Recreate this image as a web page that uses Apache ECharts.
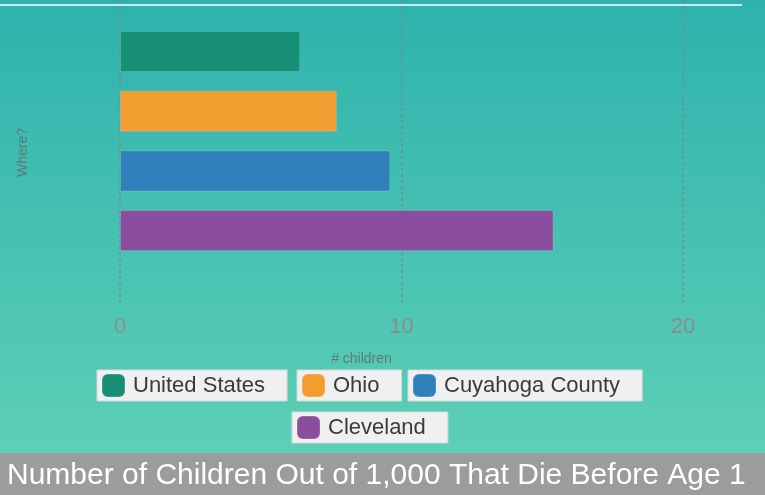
<!DOCTYPE html>
<html>
<head>
<meta charset="utf-8">
<script src="https://cdn.jsdelivr.net/npm/echarts@6/dist/echarts.min.js"></script>
<style>
html,body{margin:0;padding:0;background:#3fbfb2;}
#chart{width:765px;height:495px;}
</style>
</head>
<body>
<div id="chart"></div>
<script>
var categories = ['United States', 'Ohio', 'Cuyahoga County', 'Cleveland'];
var values = [6.4, 7.7, 9.6, 15.4];
var colors = ['#168f74', '#f19d30', '#2f80bb', '#8b4e9e'];
var xTicks = [0, 10, 20];
var titleText = 'Number of Children Out of 1,000 That Die Before Age 1';
var xName = '# children';
var yName = 'Where?';

var chart = echarts.init(document.getElementById('chart'), null, {renderer: 'canvas'});

var series = categories.map(function (c, i) {
  return {
    name: c,
    type: 'bar',
    xAxisIndex: 0,
    yAxisIndex: 0,
    barWidth: 41,
    barGap: '-100%',
    itemStyle: {color: colors[i], borderColor: 'rgba(255,255,255,0.15)', borderWidth: 1},
    data: categories.map(function (cc, j) { return j === i ? values[i] : '-'; })
  };
});

// legends: one box per item
var legendPos = [
  {left: 97, top: 370},
  {left: 297, top: 370},
  {left: 408, top: 370},
  {left: 292, top: 412}
];
var legends = categories.map(function (c, i) {
  return {
    data: [c],
    left: legendPos[i].left,
    top: legendPos[i].top,
    orient: 'horizontal',
    icon: 'roundRect',
    itemWidth: 23,
    itemHeight: 23,
    padding: [3, 22, 3, 4],
    backgroundColor: '#f0f0f0',
    borderColor: '#d8d8d8',
    borderWidth: 1,
    selectedMode: false,
    textStyle: {fontSize: 22, color: '#3a3a3a', fontFamily: 'Liberation Sans, Arial, sans-serif', padding: [0, 0, 0, 3]}
  };
});

var option = {
  backgroundColor: new echarts.graphic.LinearGradient(0, 0, 0, 1, [
    {offset: 0, color: '#2eb2ad'},
    {offset: 1, color: '#61d2b7'}
  ]),
  animation: false,
  color: colors,
  title: {
    text: titleText,
    left: 7,
    top: 461,
    padding: 0,
    textStyle: {color: '#ffffff', fontSize: 30, fontWeight: 'normal', fontFamily: 'Liberation Sans, Arial, sans-serif'}
  },
  legend: legends,
  grid: [
    {left: 120, right: 25.7, top: 21.65, height: 238.8, containLabel: false},
    {left: 120, width: 563, top: 0, height: 305, containLabel: false}
  ],
  xAxis: [
    {
      type: 'value', gridIndex: 0, min: 0, max: 22,
      axisLine: {show: false}, axisTick: {show: false}, axisLabel: {show: false}, splitLine: {show: false}
    },
    {
      type: 'value', gridIndex: 1, min: 0, max: 20, interval: 10,
      axisLine: {show: false}, axisTick: {show: false},
      axisLabel: {
        fontSize: 22, color: '#8c8c8c', margin: 11,
        fontFamily: 'Liberation Sans, Arial, sans-serif',
        formatter: function (v) { return xTicks.indexOf(v) >= 0 ? String(v) : ''; }
      },
      splitLine: {show: true, lineStyle: {color: 'rgba(130,130,130,0.8)', type: [3, 3], width: 1.5}},
      name: xName,
      nameLocation: 'middle',
      nameGap: 47,
      nameTextStyle: {fontSize: 14, color: '#607a74', padding: [0, 80, 0, 0], fontFamily: 'Liberation Sans, Arial, sans-serif'}
    }
  ],
  yAxis: [
    {
      type: 'category', gridIndex: 0, data: categories, inverse: true,
      axisLine: {show: false}, axisTick: {show: false}, axisLabel: {show: false}, splitLine: {show: false}
    },
    {
      type: 'value', gridIndex: 1, min: 0, max: 1,
      axisLine: {show: false}, axisTick: {show: false}, axisLabel: {show: false}, splitLine: {show: false},
      name: yName,
      nameLocation: 'middle',
      nameGap: 90,
      nameTextStyle: {fontSize: 14, color: '#607a74', fontFamily: 'Liberation Sans, Arial, sans-serif'}
    }
  ],
  graphic: [
    {type: 'rect', left: 0, top: 453, shape: {width: 765, height: 42}, style: {fill: '#9c9c9c'}, z: -1, silent: true},
    {type: 'line', shape: {x1: 0, y1: 5, x2: 742, y2: 5}, style: {stroke: '#ffffff', lineWidth: 1.5}, z: 10, silent: true}
  ],
  series: series
};
chart.setOption(option);
</script>
</body>
</html>
